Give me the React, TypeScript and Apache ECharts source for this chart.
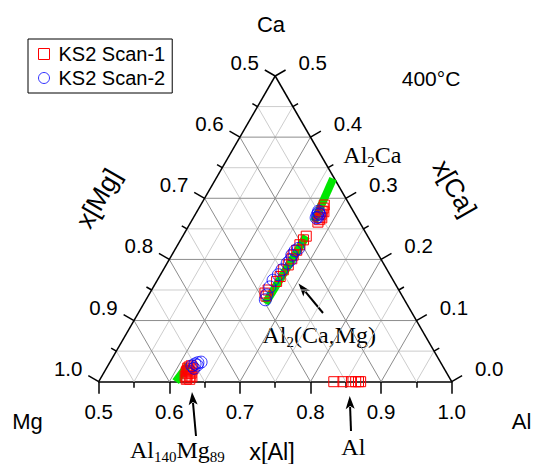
import React, { useEffect, useRef } from "react";
import * as echarts from "echarts";

const SANS = "'Liberation Sans', Arial, Helvetica, sans-serif";
const SERIF = "'Liberation Serif', 'Times New Roman', serif";

// ---- data: mole fractions (Al, Ca); Mg = 1 - Al - Ca ----
const scan1Al = [
  0.675, 0.676, 0.677, 0.678, 0.679, 0.680, 0.680, 0.682, 0.680,
  0.675, 0.674, 0.673, 0.673, 0.672, 0.673, 0.673, 0.670, 0.671, 0.670, 0.665, 0.663, 0.667,
  0.618, 0.616, 0.622, 0.620, 0.618, 0.625, 0.624, 0.615, 0.622, 0.627,
  0.616, 0.616, 0.618, 0.628, 0.623, 0.621,
  0.833, 0.846, 0.858, 0.864, 0.868, 0.871,
];
const scan1Ca = [
  0.289, 0.284, 0.279, 0.274, 0.269, 0.265, 0.261, 0.268, 0.278,
  0.238, 0.232, 0.224, 0.215, 0.207, 0.201, 0.191, 0.183, 0.172, 0.164, 0.150, 0.145, 0.140,
  0.009, 0.016, 0.006, 0.013, 0.019, 0.009, 0.014, 0.022, 0.004, 0.004,
  0.018, 0.024, 0.026, 0.008, 0.021, 0.016,
  0.0, 0.0, 0.0, 0.0, 0.0, 0.0,
];
const scan2Al = [
  0.672, 0.673, 0.673, 0.676, 0.674, 0.676,
  0.674, 0.671, 0.670, 0.672, 0.670, 0.668, 0.667, 0.664, 0.665, 0.667, 0.669,
  0.619, 0.622, 0.625, 0.629, 0.624, 0.626,
];
const scan2Ca = [
  0.279, 0.276, 0.273, 0.269, 0.268, 0.274,
  0.218, 0.214, 0.207, 0.199, 0.194, 0.183, 0.175, 0.166, 0.155, 0.142, 0.134,
  0.026, 0.029, 0.031, 0.032, 0.022, 0.027,
];
// green single-phase ranges (start -> end)
const phaseStartAl = [0.666, 0.675, 0.609];
const phaseStartCa = [0.332, 0.238, 0.0];
const phaseEndAl = [0.674, 0.672, 0.613];
const phaseEndCa = [0.262, 0.128, 0.027];

// ---- axes ----
const caTicks = [0, 0.1, 0.2, 0.3, 0.4, 0.5];
const leftLabels = ["1.0", "0.9", "0.8", "0.7", "0.6", "0.5"];
const rightLabels = ["0.0", "0.1", "0.2", "0.3", "0.4", "0.5"];
const gridFracs = [0.05, 0.1, 0.15, 0.2, 0.25, 0.3, 0.35, 0.4, 0.45];
const tickFracs = [0, 0.05, 0.1, 0.15, 0.2, 0.25, 0.3, 0.35, 0.4, 0.45, 0.5];

const MAJOR = "#8c8c8c";
const MINOR = "#cdcdcd";

const toXY = (al: number, ca: number) => [al + ca / 2, ca];
const isMajor = (v: number) => Math.round(v * 100) % 10 === 0;

const renderFrame = (_params: any, api: any) => {
  const P = (al: number, ca: number) => api.coord(toXY(al, ca));
  const ch: any[] = [];
  const seg = (a: number[], b: number[], stroke: string, lw: number, z2: number) =>
    ch.push({
      type: "line",
      shape: { x1: a[0], y1: a[1], x2: b[0], y2: b[1] },
      style: { stroke, lineWidth: lw },
      z2,
    });
  [false, true].forEach((pass) => {
    gridFracs.forEach((v) => {
      if (isMajor(v) !== pass) return;
      const c = pass ? MAJOR : MINOR;
      const z = pass ? 2 : 1;
      seg(P(0.5, v), P(1 - v, v), c, 1, z);
      seg(P(0.5 + v, 0), P(0.5 + v, 0.5 - v), c, 1, z);
      seg(P(1 - v, 0), P(0.5, 0.5 - v), c, 1, z);
    });
  });
  seg(P(0.5, 0), P(0.5, 0.5), "#000", 1.5, 5);
  seg(P(1, 0), P(0.5, 0.5), "#000", 1.5, 5);
  const c30 = Math.cos(Math.PI / 6);
  tickFracs.forEach((c) => {
    const len = isMajor(c) ? 12 : 6;
    const l = P(0.5, c);
    seg(l, [l[0] - c30 * len, l[1] - 0.5 * len], "#000", 1.5, 5);
    const r = P(1 - c, c);
    seg(r, [r[0] + c30 * len, r[1] - 0.5 * len], "#000", 1.5, 5);
  });
  caTicks.forEach((c, i) => {
    const l = P(0.5, c);
    ch.push({
      type: "text",
      x: l[0] - 30.5,
      y: l[1] - 13.5,
      style: { text: leftLabels[i], fill: "#000", fontSize: 20.5, fontFamily: SANS, align: "center", verticalAlign: "middle" },
      z2: 6,
    });
    const r = P(1 - c, c);
    ch.push({
      type: "text",
      x: r[0] + 37.5,
      y: r[1] - 13.5,
      style: { text: rightLabels[i], fill: "#000", fontSize: 20.5, fontFamily: SANS, align: "center", verticalAlign: "middle" },
      z2: 6,
    });
  });
  return { type: "group", children: ch };
};

const sansText = (text: string, x: number, y: number, size: number, rotation = 0) => ({
  type: "text",
  x,
  y,
  rotation,
  style: { text, fill: "#000", fontSize: size, fontFamily: SANS, align: "center", verticalAlign: "middle" },
});

const subRich = {
  s: { fontSize: 15, fontFamily: SERIF, fill: "#000", verticalAlign: "bottom", lineHeight: 15 },
};
const serifText = (text: string, x: number, y: number, align = "left") => ({
  type: "text",
  x,
  y,
  style: {
    text,
    fill: "#000",
    fontSize: 24,
    fontFamily: SERIF,
    align,
    verticalAlign: "middle",
    lineHeight: 28,
    rich: subRich,
  },
});

const arrow = (tx: number, ty: number, hx: number, hy: number) => {
  const dx = hx - tx;
  const dy = hy - ty;
  const L = Math.hypot(dx, dy);
  const ux = dx / L;
  const uy = dy / L;
  const hl = 13;
  const hw = 4.5;
  const bx = hx - ux * hl;
  const by = hy - uy * hl;
  return {
    type: "group",
    children: [
      { type: "line", shape: { x1: tx, y1: ty, x2: bx + ux * 2, y2: by + uy * 2 }, style: { stroke: "#000", lineWidth: 2 } },
      {
        type: "polygon",
        shape: { points: [[hx, hy], [bx - uy * hw, by + ux * hw], [bx + ux * 3, by + uy * 3], [bx + uy * hw, by - ux * hw]] },
        style: { fill: "#000" },
      },
    ],
  };
};

const phaseSeries = phaseStartAl.map((al, i) => ({
  type: "line",
  name: "phase" + i,
  data: [toXY(al, phaseStartCa[i]), toXY(phaseEndAl[i], phaseEndCa[i])],
  symbol: "none",
  lineStyle: { color: "#00e600", width: 8 },
  z: 3,
  silent: true,
}));

const option: any = {
  animation: false,
  backgroundColor: "#fff",
  grid: { left: 98.7, right: 82.3, top: 76, bottom: 82.3, containLabel: false },
  xAxis: {
    type: "value",
    min: 0.5,
    max: 1.0,
    interval: 0.1,
    axisLine: { show: true, onZero: false, lineStyle: { color: "#000", width: 1.5 } },
    axisTick: { show: true, inside: false, length: 12, lineStyle: { color: "#000", width: 1.5 } },
    minorTick: { show: true, splitNumber: 2, length: 6, lineStyle: { color: "#000", width: 1.5 } },
    axisLabel: { color: "#000", fontSize: 20.5, fontFamily: SANS, margin: 19, formatter: (v: number) => v.toFixed(1) },
    splitLine: { show: false },
    minorSplitLine: { show: false },
  },
  yAxis: { type: "value", min: 0, max: 0.5, show: false },
  legend: {
    orient: "vertical",
    left: 28,
    top: 39,
    padding: [5, 7, 5, 10],
    itemGap: 4,
    itemWidth: 11,
    itemHeight: 11,
    borderColor: "#000",
    borderWidth: 1,
    backgroundColor: "#fff",
    textStyle: { fontSize: 20, color: "#000", fontFamily: SANS, padding: [0, 0, 0, 4] },
    data: [
      { name: "KS2 Scan-1", icon: "rect", itemStyle: { color: "rgba(0,0,0,0)", borderColor: "#ff0000", borderWidth: 1 } },
      { name: "KS2 Scan-2", icon: "circle", itemStyle: { color: "rgba(0,0,0,0)", borderColor: "#0000ff", borderWidth: 1 } },
    ],
  },
  series: [
    { type: "custom", name: "frame", renderItem: renderFrame, data: [[0.75, 0.25]], z: 1, silent: true, clip: false },
    ...phaseSeries,
    {
      type: "scatter",
      name: "KS2 Scan-1",
      symbol: "rect",
      symbolSize: 10,
      clip: false,
      z: 5,
      itemStyle: { color: "rgba(0,0,0,0)", borderColor: "#ff0000", borderWidth: 1, opacity: 1 },
      data: scan1Al.map((al, i) => toXY(al, scan1Ca[i])),
    },
    {
      type: "scatter",
      name: "KS2 Scan-2",
      symbol: "circle",
      symbolSize: 12,
      clip: false,
      z: 6,
      itemStyle: { color: "rgba(0,0,0,0)", borderColor: "#0000ff", borderWidth: 1 },
      data: scan2Al.map((al, i) => toXY(al, scan2Ca[i])),
    },
  ],
  graphic: [
    sansText("Ca", 271, 24, 22),
    sansText("Mg", 27.5, 421.7, 22),
    sansText("Al", 521.5, 421.7, 22),
    sansText("x[Al]", 272, 452, 23.5),
    sansText("x[Mg]", 98.3, 198.3, 26, Math.PI / 3),
    sansText("x[Ca]", 455, 188.3, 26, -Math.PI / 3),
    sansText("400°C", 431, 78.3, 21),
    serifText("Al{s|2}Ca", 343.3, 155),
    serifText("Al{s|2}(Ca,Mg)", 262.5, 335),
    serifText("Al{s|140}Mg{s|89}", 130, 450),
    serifText("Al", 353.3, 447, "center"),
    arrow(323, 313, 298.5, 283.5),
    arrow(196, 436, 192, 392),
    arrow(351, 431, 349.7, 396),
  ],
};

export default function App() {
  const ref = useRef<HTMLDivElement>(null);
  useEffect(() => {
    if (!ref.current) return;
    const chart = echarts.init(ref.current, undefined, { renderer: "svg" });
    chart.setOption(option);
    return () => chart.dispose();
  }, []);
  return (
    <div
      ref={ref}
      style={{ position: "absolute", left: 0, top: 0, width: 534, height: 464, background: "#fff" }}
    />
  );
}
